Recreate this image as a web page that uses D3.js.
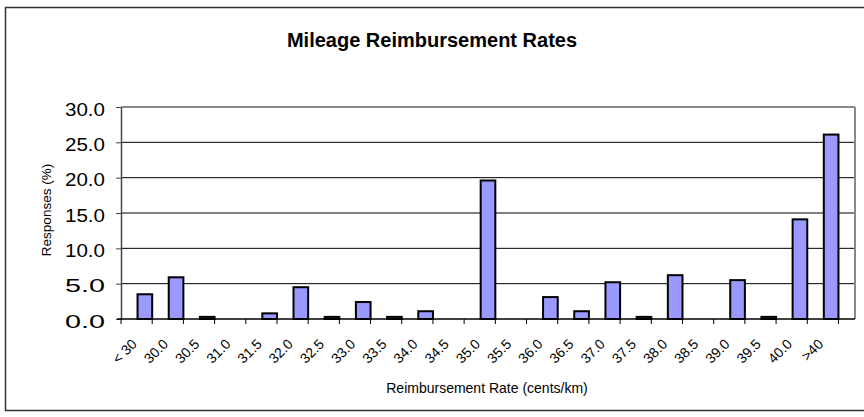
<!DOCTYPE html>
<html>
<head>
<meta charset="utf-8">
<script src="https://cdn.jsdelivr.net/npm/d3@7"></script>
<style>
  body { margin: 0; background: #fff; }
</style>
</head>
<body>
<div id="chart"></div>
<script>
const categories = ["< 30", "30.0", "30.5", "31.0", "31.5", "32.0", "32.5", "33.0", "33.5", "34.0", "34.5",
  "35.0", "35.5", "36.0", "36.5", "37.0", "37.5", "38.0", "38.5", "39.0", "39.5", "40.0", ">40"];
const responses = [3.5, 5.9, 0.3, 0, 0.8, 4.5, 0.3, 2.4, 0.3, 1.1, 0,
  19.6, 0, 3.1, 1.1, 5.2, 0.3, 6.2, 0, 5.5, 0.3, 14.1, 26.1];
const yTicks = [0, 5, 10, 15, 20, 25, 30];

const width = 864;
const height = 417;
const marginTop = 107;
const marginRight = 9;
const marginBottom = 98;
const marginLeft = 121;

const x = d3.scaleBand()
  .domain(categories)
  .range([marginLeft, width - marginRight])
  .padding(0.53);

const y = d3.scaleLinear()
  .domain([0, 30])
  .range([height - marginBottom, marginTop]);

const svg = d3.select("#chart")
  .append("svg")
  .attr("width", width)
  .attr("height", height)
  .attr("viewBox", [0, 0, width, height])
  .style("font-family", "Arial, 'Liberation Sans', sans-serif");

// outer chart border
svg.append("rect")
  .attr("x", 5.5).attr("y", 7.5)
  .attr("width", width).attr("height", 403)
  .attr("fill", "none")
  .attr("stroke", "#333")
  .attr("stroke-width", 1.5);

svg.append("text")
  .attr("x", 432).attr("y", 47)
  .attr("text-anchor", "middle")
  .attr("font-weight", "bold")
  .attr("font-size", 20)
  .text("Mileage Reimbursement Rates");

// gridlines
svg.append("g")
  .selectAll("line")
  .data(yTicks.slice(1))
  .join("line")
  .attr("x1", marginLeft).attr("x2", width - marginRight)
  .attr("y1", d => y(d)).attr("y2", d => y(d))
  .attr("stroke", d => d === 30 ? "#888" : "#000")
  .attr("stroke-width", d => d === 30 ? 2 : 1);

// plot area right edge
svg.append("line")
  .attr("x1", width - marginRight).attr("x2", width - marginRight)
  .attr("y1", marginTop).attr("y2", height - marginBottom)
  .attr("stroke", "#888").attr("stroke-width", 2);

// bars
svg.append("g")
  .selectAll("rect")
  .data(categories.map((c, i) => [c, responses[i]]).filter(d => d[1] > 0))
  .join("rect")
  .attr("x", d => x(d[0]))
  .attr("y", d => y(d[1]))
  .attr("width", x.bandwidth())
  .attr("height", d => y(0) - y(d[1]))
  .attr("fill", "#9999ff")
  .attr("stroke", "#000")
  .attr("stroke-width", 2);

// y axis
const yAxis = svg.append("g")
  .attr("transform", `translate(${marginLeft},0)`)
  .call(d3.axisLeft(y).tickValues(yTicks).tickFormat(d3.format(".1f")).tickSize(5).tickSizeOuter(0));
yAxis.select(".domain").attr("stroke", "#444").attr("stroke-width", 1.5);
yAxis.selectAll(".tick line").attr("stroke", "#444");
yAxis.selectAll("text")
  .attr("font-size", 19)
  .attr("fill", "#000")
  .attr("x", -16)
  .attr("y", 8)
  .attr("dy", null)
  .attr("textLength", 40)
  .attr("lengthAdjust", "spacingAndGlyphs");

// x axis with ticks at category boundaries
const xAxis = svg.append("g")
  .attr("transform", `translate(0,${height - marginBottom})`);
xAxis.append("line")
  .attr("x1", marginLeft - 4).attr("x2", width - marginRight)
  .attr("stroke", "#000").attr("stroke-width", 1.5);
const step = x.step();
xAxis.selectAll(".tk")
  .data(d3.range(categories.length + 1))
  .join("line")
  .attr("class", "tk")
  .attr("x1", i => marginLeft + i * step).attr("x2", i => marginLeft + i * step)
  .attr("y1", 0).attr("y2", 5)
  .attr("stroke", "#000");
xAxis.selectAll("text")
  .data(categories)
  .join("text")
  .attr("text-anchor", "end")
  .attr("font-size", 14)
  .attr("transform", d => `translate(${x(d) + x.bandwidth() / 2 - 7},${26}) rotate(-45)`)
  .text(d => d);

svg.append("text")
  .attr("x", 487).attr("y", 393)
  .attr("text-anchor", "middle")
  .attr("font-size", 14)
  .text("Reimbursement Rate (cents/km)");

svg.append("text")
  .attr("transform", "translate(51,210) rotate(-90)")
  .attr("text-anchor", "middle")
  .attr("font-size", 13.5)
  .text("Responses (%)");
</script>
</body>
</html>
